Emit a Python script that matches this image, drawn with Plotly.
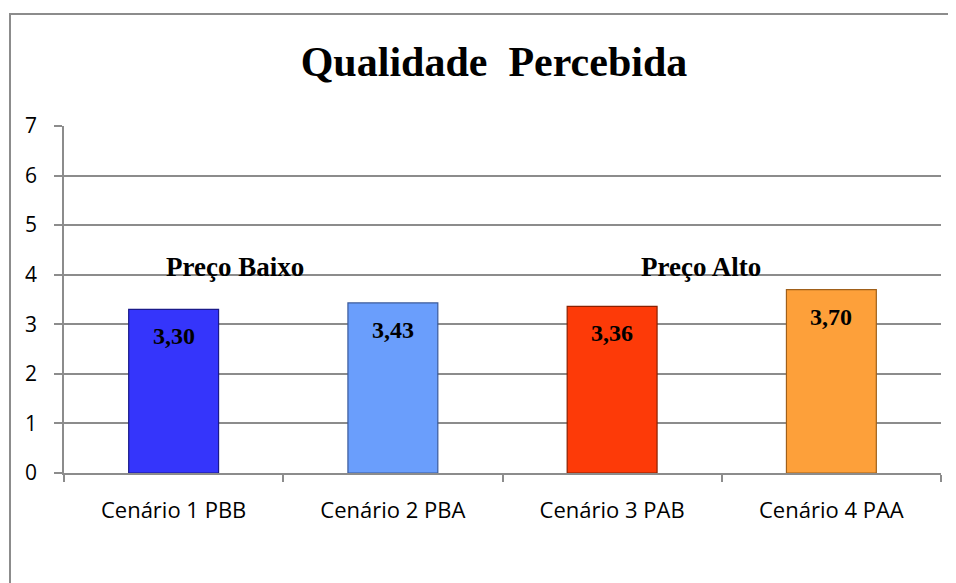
import plotly.graph_objects as go

categories = ["Cenário 1 PBB", "Cenário 2 PBA", "Cenário 3 PAB", "Cenário 4 PAA"]
values = [3.30, 3.43, 3.36, 3.70]
value_labels = ["3,30", "3,43", "3,36", "3,70"]
bar_colors = ["#3535FB", "#6A9EFC", "#FD3A08", "#FDA03A"]
edge_colors = ["#1A1A8A", "#3A5A9A", "#8A2000", "#A0601A"]
y_ticks = [0, 1, 2, 3, 4, 5, 6, 7]
group_labels = ["Preço Baixo", "Preço Alto"]

OFF = 8  # page body offset
W, H = 956 - OFF, 583 - OFF
L, R, T, B = 64 - OFF, 15, 126 - OFF, 110

fig = go.Figure()
fig.add_trace(go.Bar(
    x=categories, y=values,
    marker=dict(color=bar_colors, line=dict(color=edge_colors, width=1.2)),
    width=0.41, hoverinfo="skip",
))

serif = "Liberation Serif, Times New Roman, serif"
sans = "Open Sans, Liberation Sans, Arial, sans-serif"

annotations = []
for c, v, t in zip(categories, values, value_labels):
    annotations.append(dict(x=c, y=v, xref="x", yref="y", text=f"<b>{t}</b>",
                            showarrow=False, yshift=-27,
                            font=dict(family=serif, size=24, color="black")))
annotations.append(dict(x=0.28, y=4.16, xref="x", yref="y", text=f"<b>{group_labels[0]}</b>",
                        showarrow=False, font=dict(family=serif, size=27, color="black")))
annotations.append(dict(x=2.405, y=4.16, xref="x", yref="y", text=f"<b>{group_labels[1]}</b>",
                        showarrow=False, font=dict(family=serif, size=27, color="black")))

pw = W - L - R
ph = H - T - B
fx0 = (10 - 64) / pw
fy1 = 1 + (126 - 14) / ph

fig.update_layout(
    width=W, height=H,
    margin=dict(l=L, r=R, t=T, b=B),
    paper_bgcolor="white", plot_bgcolor="white",
    showlegend=False,
    title=dict(text="<b>Qualidade  Percebida</b>", x=(494 - OFF) / W, xanchor="center",
               y=1 - (61 - OFF) / H, yanchor="middle",
               font=dict(family=serif, size=42, color="black")),
    annotations=annotations,
    shapes=[dict(type="rect", xref="paper", yref="paper", x0=fx0, x1=1.2, y0=-0.6, y1=fy1,
                 line=dict(color="#8c8c8c", width=2), fillcolor="rgba(0,0,0,0)", layer="below")],
    xaxis=dict(
        type="category", tickson="boundaries", ticks="outside", ticklen=7,
        tickcolor="#8c8c8c", tickwidth=1.5, showgrid=False,
        showline=True, linecolor="#8c8c8c", linewidth=1.5,
        tickfont=dict(family=sans, size=22, color="black"),
        ticklabelstandoff=17,
        range=[-0.5, 3.5],
    ),
    yaxis=dict(
        range=[0, 7], tickvals=y_ticks, ticks="outside", ticklen=8,
        tickcolor="#8c8c8c", tickwidth=1.5,
        showgrid=True, gridcolor="#8c8c8c", gridwidth=1.5,
        showline=True, linecolor="#8c8c8c", linewidth=1.5,
        zeroline=False,
        tickfont=dict(family=sans, size=21, color="black"),
        ticklabelstandoff=13,
    ),
)

fig.write_html("out.html")
